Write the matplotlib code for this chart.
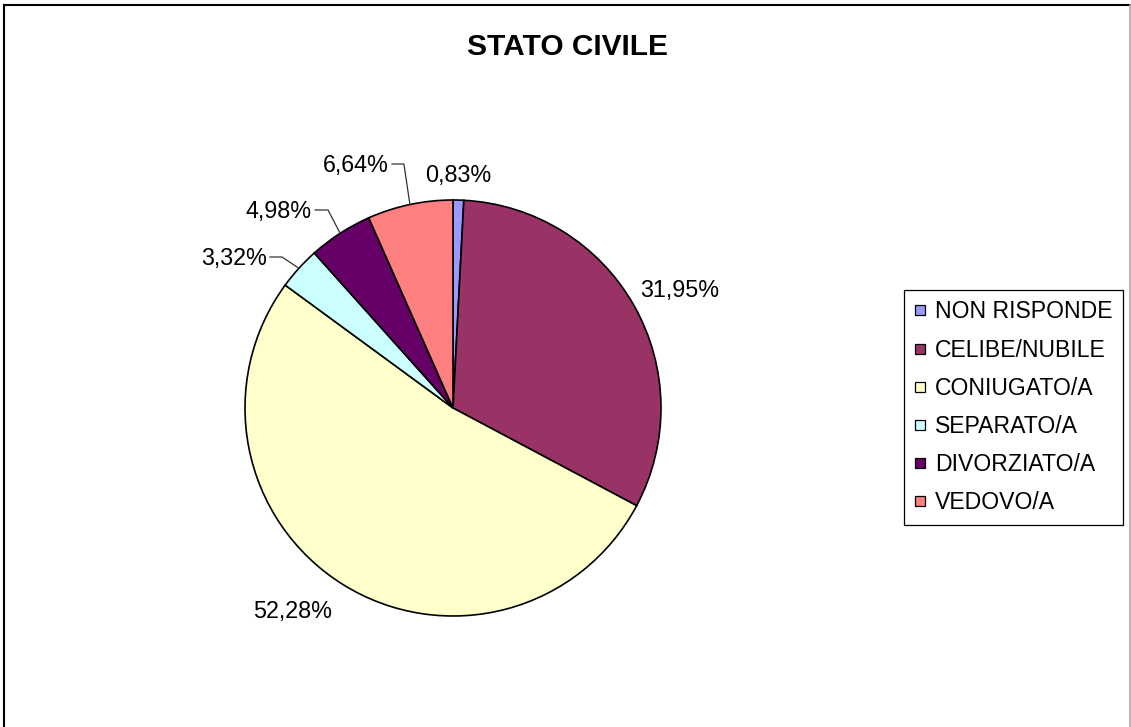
import matplotlib
matplotlib.use("Agg")
import matplotlib.pyplot as plt
from matplotlib.lines import Line2D
import numpy as np

plt.rcParams['font.family'] = ['Liberation Sans', 'DejaVu Sans']

categories = ['NON RISPONDE', 'CELIBE/NUBILE', 'CONIUGATO/A',
              'SEPARATO/A', 'DIVORZIATO/A', 'VEDOVO/A']
percent = [0.83, 31.95, 52.28, 3.32, 4.98, 6.64]
pct_labels = ['0,83%', '31,95%', '52,28%', '3,32%', '4,98%', '6,64%']
colors = ['#9999FF', '#993366', '#FFFFCC', '#CCFFFF', '#660066', '#FF8080']

W, H = 1131, 727
fig = plt.figure(figsize=(W / 100, H / 100), dpi=100)

# pie area: centre (453, 408) px, radius 208 px
cx, cy, r = 453, 408, 208
ax = fig.add_axes([(cx - r) / W, 1 - (cy + r) / H, 2 * r / W, 2 * r / H])
wedges, _ = ax.pie(percent, colors=colors, startangle=90, counterclock=False,
                   wedgeprops=dict(edgecolor='black', linewidth=1.2))
ax.set_xlim(-1, 1)
ax.set_ylim(-1, 1)
ax.set_aspect('equal')
ax.axis('off')

# label placement (data units, radius = 1)
plain_pos = {0: (0.027, 1.12), 1: (1.091, 0.567), 2: (-0.769, -0.978)}
for i, (x, y) in plain_pos.items():
    ax.text(x, y, pct_labels[i], ha='center', va='center', fontsize=16.8,
            clip_on=False)

# labels with leader lines: (line start x, elbow x, y)
leader_pos = {3: (-0.88, -0.822, 0.726), 4: (-0.663, -0.601, 0.952),
              5: (-0.293, -0.236, 1.173)}
for i, (x0, x1, y) in leader_pos.items():
    w = wedges[i]
    mid = np.deg2rad((w.theta1 + w.theta2) / 2)
    ex, ey = np.cos(mid), np.sin(mid)
    ax.plot([x0, x1, ex], [y, y, ey], color='#333333', lw=0.9,
            clip_on=False, solid_joinstyle='miter')
    ax.text(x0 - 0.015, y - 0.005, pct_labels[i], ha='right', va='center',
            fontsize=16.8, clip_on=False)

fig.text(567 / W, 1 - 47 / H, 'STATO CIVILE', ha='center', va='center',
         fontsize=21.5, fontweight='bold')

handles = [Line2D([], [], linestyle='none', marker='s', markersize=7.5,
                  markerfacecolor=c, markeredgecolor='black',
                  markeredgewidth=0.9) for c in colors]
leg = fig.legend(handles, categories, loc='upper left',
                 bbox_to_anchor=(904 / W, 1 - 290 / H), borderaxespad=0,
                 fontsize=16.6, frameon=True, fancybox=False,
                 edgecolor='black', framealpha=1, handlelength=0.5,
                 handletextpad=0.38, labelspacing=0.66, borderpad=0.45)
leg.get_frame().set_linewidth(0.9)

# chart border
fig.add_artist(Line2D([4 / W, 4 / W], [0, 1 - 5 / H], color='black', lw=1.5))
fig.add_artist(Line2D([4 / W, 1130 / W], [1 - 5 / H, 1 - 5 / H],
                      color='black', lw=1.5))
fig.add_artist(Line2D([1129.5 / W, 1129.5 / W], [0, 1 - 5 / H],
                      color='#aaaaaa', lw=1.2))

fig.savefig('out.png', dpi=100)
